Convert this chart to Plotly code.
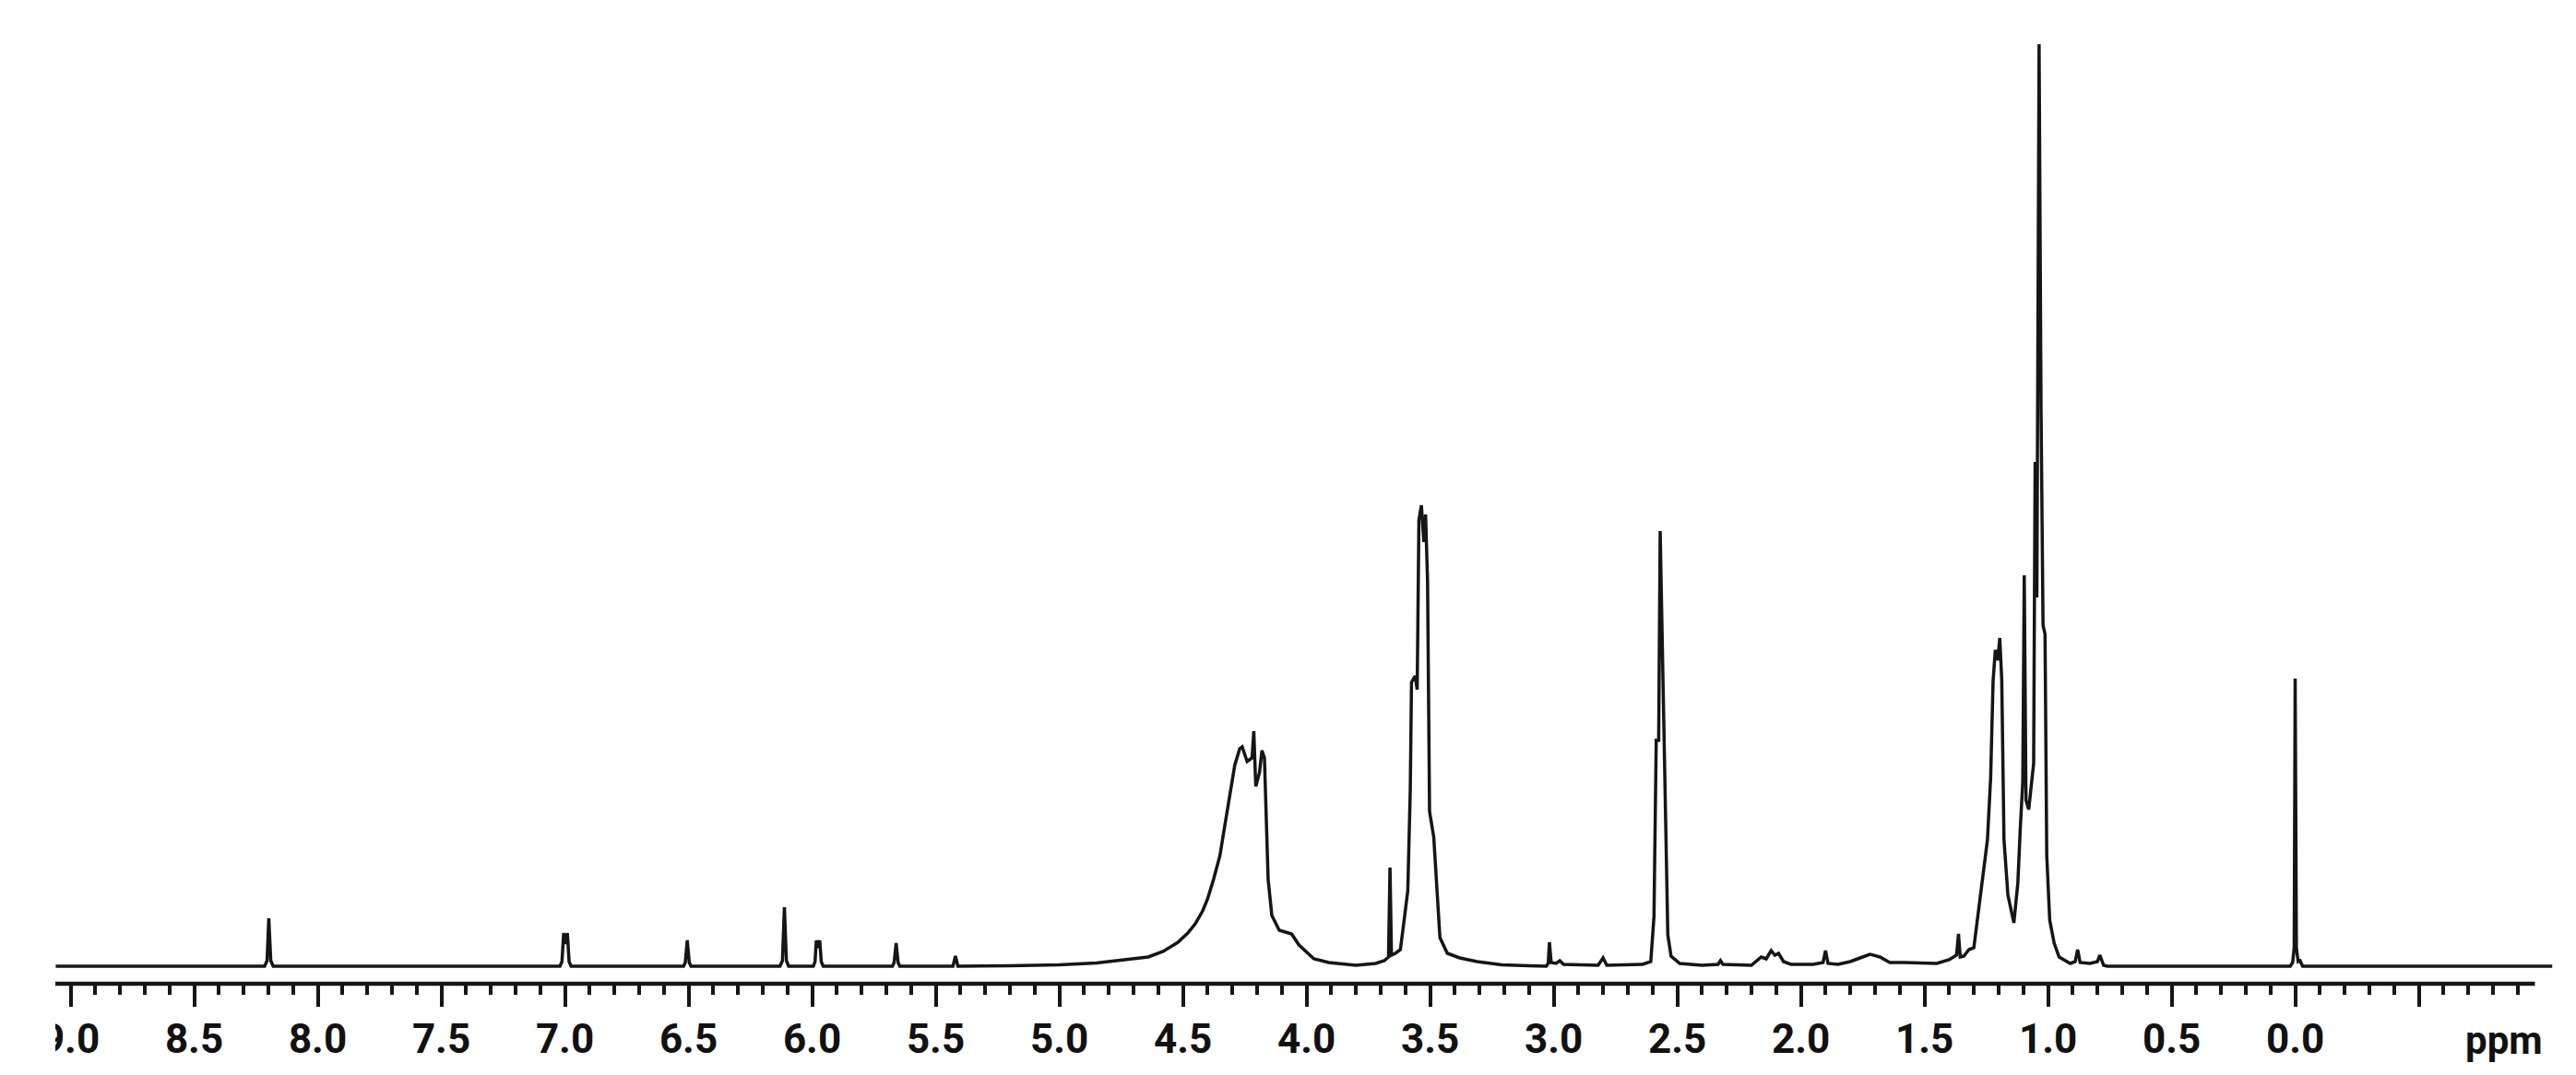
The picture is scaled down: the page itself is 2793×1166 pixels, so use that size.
"""
1H NMR spectrum redrawn with plotly
"""
import plotly.graph_objects as go

# chemical shift (ppm), left to right
shift_ppm = [
    9.06, 8.215, 8.205, 8.198, 8.19, 8.18,
    7.02, 7.012, 7.005, 6.997, 6.99, 6.983, 6.975,
    6.52, 6.513, 6.505, 6.497, 6.49,
    6.13, 6.12, 6.112, 6.104, 6.095,
    5.995, 5.988, 5.983, 5.976, 5.969, 5.963, 5.955,
    5.675, 5.668, 5.66, 5.652, 5.645,
    5.43, 5.42, 5.41,
    5.2, 5.0, 4.85, 4.72, 4.64, 4.58, 4.52, 4.48, 4.45, 4.42, 4.40, 4.375,
    4.35, 4.335, 4.32, 4.305, 4.29, 4.27, 4.26,
    4.24, 4.22, 4.213, 4.205, 4.19, 4.18, 4.17, 4.16, 4.155, 4.14, 4.11,
    4.06, 4.03, 3.97, 3.91, 3.80, 3.72,
    3.685, 3.668, 3.662, 3.656, 3.64, 3.62, 3.61, 3.59, 3.58, 3.575, 3.56,
    3.552, 3.545, 3.535, 3.525, 3.518, 3.51, 3.502, 3.485, 3.47, 3.46,
    3.43, 3.38, 3.31, 3.21, 3.1,
    3.03, 3.022, 3.017, 3.01, 2.99, 2.975, 2.96,
    2.82, 2.80, 2.785,
    2.64, 2.607, 2.594, 2.585, 2.575, 2.569, 2.56, 2.548, 2.538, 2.525, 2.49,
    2.40, 2.335, 2.325, 2.315,
    2.2, 2.16, 2.14, 2.12, 2.105, 2.09, 2.07, 2.04,
    1.95, 1.91, 1.90, 1.89, 1.85, 1.80, 1.76, 1.72, 1.68, 1.64, 1.58,
    1.50, 1.45, 1.40, 1.37, 1.362, 1.355, 1.34, 1.32, 1.30,
    1.285, 1.265, 1.245, 1.232, 1.222, 1.213, 1.203, 1.195, 1.187, 1.178, 1.162,
    1.138, 1.122, 1.112, 1.102, 1.096, 1.089, 1.078, 1.068, 1.058,
    1.052, 1.045, 1.036, 1.028, 1.02, 1.012, 1.005, 0.993, 0.975, 0.955,
    0.91, 0.89, 0.88, 0.87, 0.83, 0.80, 0.79, 0.775, 0.76,
    0.02, 0.01, 0.004, 0.0, -0.005, -0.012, -0.02, -0.03, -1.04,
]

# intensity, % of the tallest line (~1.03 ppm)
intensity = [
    0, 0, 0.6, 5.2, 0.6, 0,
    0, 0.5, 3.6, 2.4, 3.6, 0.5, 0,
    0, 0.4, 2.8, 0.4, 0,
    0, 0.6, 6.4, 0.6, 0,
    0, 0.5, 2.8, 2.0, 2.8, 0.5, 0,
    0, 0.4, 2.5, 0.4, 0,
    0, 1.1, 0,
    0.05, 0.15, 0.35, 0.7, 1.0, 1.6, 2.6, 3.6, 4.6, 6.0, 7.3, 9.5,
    12.0, 14.5, 17.0, 19.6, 21.8, 23.6, 23.8,
    22.2, 22.6, 25.5, 19.5, 21.0, 23.4, 22.6, 15.2, 9.4, 5.5, 3.9,
    3.5, 2.3, 0.8, 0.4, 0.1, 0.3,
    0.6, 1.0, 10.7, 1.2, 1.4, 1.8, 3.9, 8.2, 19.1, 30.8, 31.5,
    30.0, 48.4, 50.0, 46.0, 49.0, 41.7, 16.8, 14.0, 7.4, 3.1,
    1.4, 0.9, 0.5, 0.15, 0.05,
    0, 0.3, 2.6, 0.4, 0.3, 0.6, 0.2,
    0.1, 0.9, 0.1,
    0.2, 0.5, 5.4, 24.5, 24.5, 47.2, 34.5, 13.8, 3.4, 1.1, 0.3,
    0.1, 0.2, 0.6, 0.2,
    0.1, 1.0, 0.8, 1.7, 1.2, 1.4, 0.5, 0.2,
    0.2, 0.4, 1.7, 0.3, 0.2, 0.5, 0.9, 1.3, 1.0, 0.4, 0.4,
    0.3, 0.3, 0.7, 1.2, 3.5, 1.0, 1.1, 1.8, 2.0,
    5.3, 9.4, 13.7, 20.4, 31.0, 34.3, 33.2, 35.6, 31.0, 13.7, 7.7,
    4.7, 9.0, 15.0, 20.0, 42.4, 18.0, 17.0, 19.7, 22.0,
    54.7, 40.0, 100.0, 60.0, 37.0, 36.0, 12.0, 5.0, 2.5, 1.0,
    0.3, 0.5, 1.8, 0.4, 0.3, 0.5, 1.2, 0.1, 0,
    0, 0.4, 2.0, 31.2, 2.0, 0.5, 0.6, 0, 0,
]

major_ticks = [9.0, 8.5, 8.0, 7.5, 7.0, 6.5, 6.0, 5.5, 5.0, 4.5,
               4.0, 3.5, 3.0, 2.5, 2.0, 1.5, 1.0, 0.5, 0.0, -0.5]
major_labels = ['9.0', '8.5', '8.0', '7.5', '7.0', '6.5', '6.0', '5.5', '5.0', '4.5',
                '4.0', '3.5', '3.0', '2.5', '2.0', '1.5', '1.0', '0.5', '0.0', '']
minor_ticks = [round(9.0 - 0.1 * i, 1) for i in range(100)
               if round(9.0 - 0.1 * i, 1) not in major_ticks]

W, H = 2793, 1166
AXIS_PX = 1059          # pixel row of the ppm axis
LABEL_FONT = dict(family='Roboto, DejaVu Sans', size=44, color='#111111', weight='bold')

fig = go.Figure()
fig.add_trace(go.Scatter(x=shift_ppm, y=intensity, mode='lines',
                         line=dict(color='#151515', width=3.5),
                         hoverinfo='skip', showlegend=False))

# axis line only runs across the drawn part of the scale
fig.add_shape(type='line', xref='x', yref='paper', x0=9.063, x1=-0.97, y0=0, y1=0,
              line=dict(color='#151515', width=4.5))
# the source picture is cropped on the left, cutting into the 9.0 label
fig.add_shape(type='rect', xref='paper', yref='paper', x0=0, x1=52 / W,
              y0=-0.12, y1=0.07, fillcolor='white', line=dict(width=0), layer='above')

fig.add_annotation(x=-0.845, y=-(1120 - AXIS_PX) / AXIS_PX, xref='x', yref='paper',
                   text='ppm', showarrow=False, xanchor='center', yanchor='middle',
                   font=dict(LABEL_FONT, size=42))

fig.update_layout(
    width=W, height=H, autosize=False,
    margin=dict(l=0, r=0, t=0, b=H - AXIS_PX, pad=0),
    paper_bgcolor='white', plot_bgcolor='white',
    xaxis=dict(range=[9.2556, -1.166], showgrid=False, zeroline=False, showline=False,
               automargin=False, tickmode='array', tickvals=major_ticks,
               ticktext=major_labels, ticks='outside', ticklen=24, tickwidth=4,
               tickcolor='#151515', tickfont=LABEL_FONT, ticklabelstandoff=-3,
               minor=dict(tickmode='array', tickvals=minor_ticks, ticks='outside',
                          ticklen=11, tickwidth=3.5, tickcolor='#151515',
                          showgrid=False)),
    yaxis=dict(range=[-1.9, 104], visible=False, showgrid=False, zeroline=False),
)

fig.write_html("out.html", config={'displayModeBar': False})
